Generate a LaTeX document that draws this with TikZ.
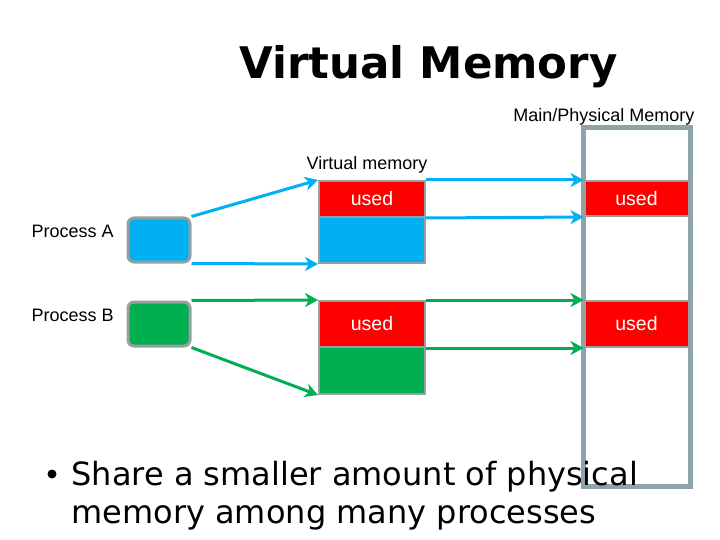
\documentclass[tikz,border=0pt]{standalone}
\usepackage{fontspec}
\setmainfont{DejaVu Sans}
\newfontfamily\arialfont{Liberation Sans}
\usetikzlibrary{arrows.meta}
\definecolor{usedred}{HTML}{FF0000}
\definecolor{procblue}{HTML}{00B0F0}
\definecolor{procgreen}{HTML}{00B050}
\definecolor{edgegrey}{HTML}{979FA1}
\definecolor{physgrey}{HTML}{8FA4A8}
\begin{document}
\begin{tikzpicture}[x=1pt,y=-1pt,
  lbl/.style={font=\arialfont\fontsize{18}{20}\selectfont},
  blk/.style={draw=edgegrey,line width=2pt,minimum width=106pt,inner sep=0pt,text=white,font=\arialfont\fontsize{19.5}{20}\selectfont},
  proc/.style={draw=edgegrey,line width=3pt,rounded corners=6pt,minimum width=62pt,minimum height=44pt,inner sep=0pt},
  arr/.style={line width=3pt,-{Stealth[length=13pt,width=14pt,inset=4pt]}}]
\useasboundingbox (0,0) rectangle (720,540);
\node[font=\bfseries\fontsize{43.5}{46}\selectfont,anchor=base] (title) at (428.5,79) {Virtual Memory};
\node[lbl,anchor=east] (mainlbl) at (698,117) {Main/Physical Memory};
\node[lbl] (virtlbl) at (367,165) {Virtual memory};
\node[lbl,anchor=west] (lblA) at (28,231) {Process A};
\node[lbl,anchor=west] (lblB) at (28,315) {Process B};
% physical memory
\node[draw=physgrey,line width=5pt,minimum width=107pt,minimum height=358pt,inner sep=0pt] (phys) at (636.5,307) {};
\node[blk,fill=usedred,minimum width=104pt,minimum height=35pt] (pusedA) at (636.5,198.5) {used};
\node[blk,fill=usedred,minimum width=104pt,minimum height=46pt] (pusedB) at (636.5,324) {used};
% virtual memory
\node[blk,fill=usedred,minimum height=36pt] (usedA) at (372,199) {used};
\node[blk,fill=procblue,minimum height=46pt] (freeA) at (372,240) {};
\node[blk,fill=usedred,minimum height=46pt] (usedB) at (372,324) {used};
\node[blk,fill=procgreen,minimum height=47pt] (freeB) at (372,370.5) {};
% processes
\node[proc,fill=procblue] (procA) at (159,240) {};
\node[proc,fill=procgreen] (procB) at (159,324) {};
\draw[arr,procblue] (procA.north east) -- (usedA.north west);
\draw[arr,procblue] (procA.south east) -- (freeA.south west);
\draw[arr,procgreen] (procB.north east) -- (usedB.north west);
\draw[arr,procgreen] (procB.south east) -- (freeB.south west);
\draw[arr,procblue] (usedA.north east) -- (pusedA.north west);
\draw[arr,procblue] (usedA.south east) -- (pusedA.south west);
\draw[arr,procgreen] (usedB.north east) -- (pusedB.north west);
\draw[arr,procgreen] (usedB.south east) -- (pusedB.south west);
% bullet text
\node[circle,fill,inner sep=0pt,minimum size=9pt] (dot) at (52,474) {};
\node[font=\fontsize{32}{34}\selectfont,anchor=base west] (pt1) at (68,485) {Share a smaller amount of physical};
\node[font=\fontsize{32}{34}\selectfont,anchor=base west] (pt2) at (68,523) {memory among many processes};
\end{tikzpicture}
\end{document}
